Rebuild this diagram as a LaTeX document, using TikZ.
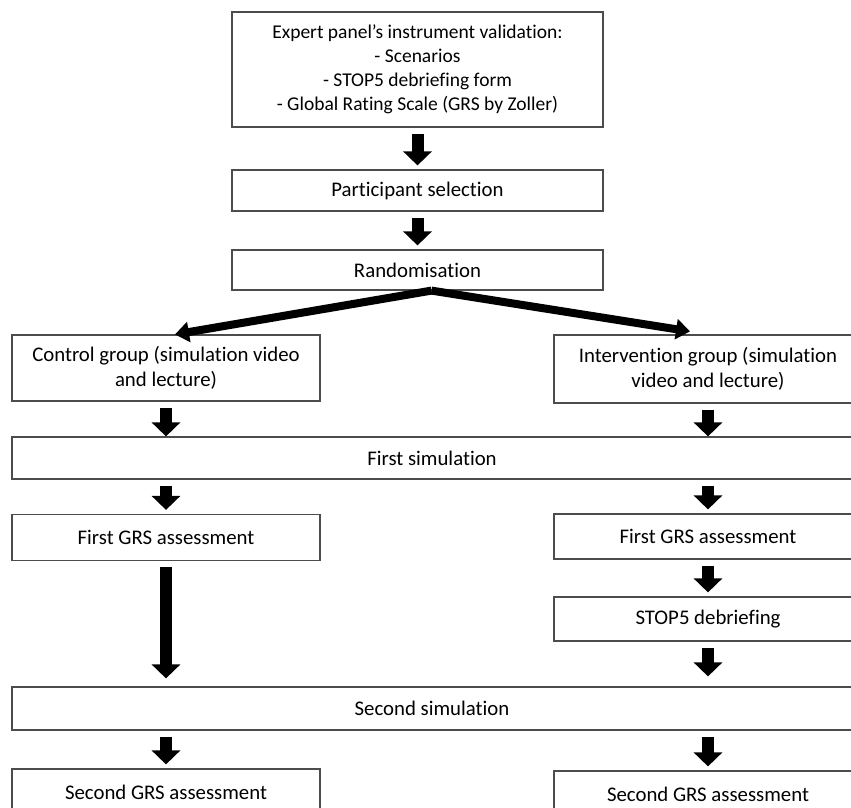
\documentclass[tikz,border=0pt]{standalone}
\usepackage{fontspec}
\setmainfont{Carlito}[Ligatures=NoCommon]
\usetikzlibrary{arrows.meta}

\begin{document}
\begin{tikzpicture}[%
    x=1pt, y=-1pt,
    box/.style={%
        draw=black!70,
        line width=1.2pt,
        minimum height=#1,
        minimum width=308pt,
        align=center,
        font=\fontsize{20.8}{25}\selectfont,
        inner sep=2pt,
        anchor=center,
    },
    box/.default=44pt,
    widebox/.style={box=#1, minimum width=371pt},
    fullbox/.style={box=#1, minimum width=840pt},
    blockarrow/.style={%
        line width=12pt,
        -{Triangle[width=28pt,length=14pt]},
        shorten <=6pt,
        shorten >=4pt,
    },
    forkarrow/.style={%
        line width=8pt,
        -{Triangle[width=20pt,length=14pt]},
    }
]
\useasboundingbox (0,0) rectangle (851,808);
\clip (0,0) rectangle (851,808);

% top column
\node[widebox=115pt, font=\fontsize{19.5}{24}\selectfont] (expert) at (417.5,69.5)
    {Expert panel’s instrument validation:\\
    - Scenarios\\
    - STOP5 debriefing form\\
    - Global Rating Scale (GRS by Zoller)};
\node[widebox=41pt] (select) at (417.5,190.5) {Participant selection};
\node[widebox=40pt] (random) at (417.5,270) {Randomisation};

% two groups
\node[box=66pt] (ctrl) at (166,368) {Control group (simulation video\\and lecture)};
\node[box=68pt] (interv) at (708,369) {Intervention group (simulation\\video and lecture)};

\node[fullbox=42pt] (sim1) at (432,458) {First simulation};

\node[box=46pt] (grs1L) at (166,537.5) {First GRS assessment};
\node[box=45pt] (grs1R) at (708,536.5) {First GRS assessment};
\node[box=44pt] (stop) at (708,619) {STOP5 debriefing};

\node[fullbox=43pt] (sim2) at (432,708.5) {Second simulation};

\node[box=46pt] (grs2L) at (166,792) {Second GRS assessment};
\node[box=46pt] (grs2R) at (708,794) {Second GRS assessment};

% connectors
\coordinate (fork) at ([xshift=14pt]random.south);
\draw[blockarrow] (expert) -- (select);
\draw[blockarrow] (select) -- (random);
\draw[forkarrow] (fork) -- ([xshift=9pt]ctrl.north);
\draw[forkarrow] (fork) -- ([xshift=-18pt,yshift=3pt]interv.north);

\draw[blockarrow, shorten >=0pt] (ctrl) -- (ctrl |- sim1.north);
\draw[blockarrow, shorten >=0pt] (interv) -- (interv |- sim1.north);
\draw[blockarrow] (sim1.south -| grs1L) -- (grs1L);
\draw[blockarrow] (sim1.south -| grs1R) -- (grs1R);

\draw[blockarrow, shorten >=8pt] (grs1L) -- (grs1L |- sim2.north);
\draw[blockarrow] (grs1R) -- (stop);
\draw[blockarrow, shorten >=10pt] (stop) -- (stop |- sim2.north);

\draw[blockarrow] (sim2.south -| grs2L) -- (grs2L);
\draw[blockarrow] (sim2.south -| grs2R) -- (grs2R);

\end{tikzpicture}
\end{document}
